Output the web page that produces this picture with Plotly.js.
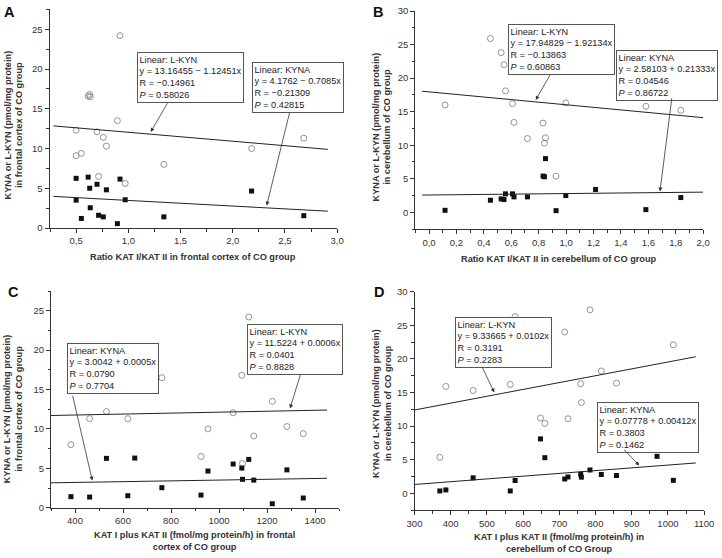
<!DOCTYPE html>
<html><head><meta charset="utf-8">
<script src="https://cdn.plot.ly/plotly-3.0.1.min.js"></script>
<style>html,body{margin:0;padding:0;background:#fff}#chart{width:722px;height:558px}</style>
</head><body><div id="chart"></div>
<script>
// ---------- Panel A: ratio KAT I/KAT II, frontal cortex ----------
const aX    = [0.50,0.50,0.55,0.615,0.63,0.635,0.70,0.715,0.76,0.79,0.895,0.92,0.97,1.34,2.18,2.68];
const aLKYN = [12.3,9.1,9.4,16.6,16.8,16.5,12.1,6.5,11.4,10.3,13.5,24.2,5.6,8.0,10.0,11.3];
const aKYNA = [6.25,3.5,1.2,6.4,5.0,2.55,5.5,1.6,1.4,4.8,0.55,6.15,3.55,1.4,4.65,1.55];
const aLineX = [0.283, 2.91];
const aFitLKYN = [13.16455, -1.12451];
const aFitKYNA = [4.1762, -0.7085];

// ---------- Panel B: ratio KAT I/KAT II, cerebellum ----------
const bX    = [0.117,0.448,0.526,0.547,0.558,0.609,0.62,0.718,0.832,0.842,0.85,0.927,0.998,1.215,1.582,1.837];
const bLKYN = [16.0,25.9,23.8,22.0,18.1,16.2,13.4,11.0,13.3,10.3,11.1,5.4,16.3,27.4,15.8,15.2];
const bKYNA = [0.3,1.8,2.0,1.9,2.75,2.75,2.3,2.3,5.4,5.3,8.0,0.25,2.5,3.4,0.4,2.2];
const bLineX = [-0.05, 2.0];
const bFitLKYN = [17.94829, -1.92134];
const bFitKYNA = [2.58103, 0.21333];

// ---------- Panel C: KAT I + KAT II, frontal cortex ----------
const cX    = [383,461,531,620,649,762,925,954,1059,1095,1098,1124,1145,1222,1283,1351];
const cLKYN = [8.0,11.3,12.2,11.3,16.4,16.5,6.5,10.0,12.05,16.8,5.6,24.2,9.1,13.5,10.3,9.4];
const cKYNA = [1.4,1.35,6.26,1.52,6.3,2.54,1.6,4.65,5.54,5.03,3.6,6.13,3.5,0.5,4.8,1.23];
const cLineX = [300, 1450];
const cFitLKYN = [11.5224, 0.0006];
const cFitKYNA = [3.0042, 0.0005];

// ---------- Panel D: KAT I + KAT II, cerebellum ----------
const dX    = [370,386.6,462,564.5,578,648,660,715,724,759,761,784.7,816,858,970,1015];
const dLKYN = [5.35,15.9,15.3,16.2,26.3,11.2,10.4,24.0,11.1,16.3,13.5,27.3,18.2,16.4,12.9,22.1];
const dKYNA = [0.35,0.5,2.3,0.35,1.9,8.1,5.3,2.13,2.43,2.85,2.4,3.47,2.8,2.65,5.5,1.93];
const dLineX = [300, 1077];
const dFitLKYN = [9.33665, 0.0102];
const dFitKYNA = [0.07778, 0.00412];

// ---------- Text ----------
const panelLetters = ['A','B','C','D'];
const xTitles = [
  'Ratio KAT I/KAT II in frontal cortex of CO group',
  'Ratio KAT I/KAT II in cerebellum of CO group',
  'KAT I plus KAT II (fmol/mg protein/h) in frontal<br>cortex of CO group',
  'KAT I plus KAT II (fmol/mg protein/h) in<br>cerebellum of CO Group'
];
const yTitles = [
  'KYNA or L-KYN (pmol/mg protein)<br>in frontal cortex of CO group',
  'KYNA or L-KYN (pmol/mg protein)<br>in cerebellum of CO group',
  'KYNA or L-KYN (pmol/mg protein)<br>in frontal cortex of CO group',
  'KYNA or L-KYN (pmol/mg protein)<br>in cerebellum of CO group'
];
const fitTexts = {
  aL: 'Linear: L-KYN<br>y = 13.16455 − 1.12451x<br>R = −0.14961<br><i>P</i> = 0.58026',
  aK: 'Linear: KYNA<br>y = 4.1762 − 0.7085x<br>R = −0.21309<br><i>P</i> = 0.42815',
  bL: 'Linear: L-KYN<br>y = 17.94829 − 1.92134x<br>R = −0.13863<br><i>P</i> = 0.60863',
  bK: 'Linear: KYNA<br>y = 2.58103 + 0.21333x<br>R = 0.04546<br><i>P</i> = 0.86722',
  cK: 'Linear: KYNA<br>y = 3.0042 + 0.0005x<br>R = 0.0790<br><i>P</i> = 0.7704',
  cL: 'Linear: L-KYN<br>y = 11.5224 + 0.0006x<br>R = 0.0401<br><i>P</i> = 0.8828',
  dL: 'Linear: L-KYN<br>y = 9.33665 + 0.0102x<br>R = 0.3191<br><i>P</i> = 0.2283',
  dK: 'Linear: KYNA<br>y = 0.07778 + 0.00412x<br>R = 0.3803<br><i>P</i> = 0.1462'
};

// ---------- Build ----------
const W = 722, H = 558;
const fx = px => px / W;
const fy = py => 1 - py / H;
const FONT = 'Arial, "Liberation Sans", sans-serif';

function fitLine(xs, fit){ return xs.map(x => fit[0] + fit[1]*x); }

const traces = [];
function addPanel(xs, lkyn, kyna, lineX, fitL, fitK, xa, ya){
  traces.push({x: xs, y: lkyn, type:'scatter', mode:'markers', xaxis:xa, yaxis:ya, cliponaxis:false,
    marker:{symbol:'circle-open', size:6, color:'#7a7a7a', line:{width:0.8, color:'#7a7a7a'}}, hoverinfo:'skip'});
  traces.push({x: xs, y: kyna, type:'scatter', mode:'markers', xaxis:xa, yaxis:ya, cliponaxis:false,
    marker:{symbol:'square', size:5, color:'#111'}, hoverinfo:'skip'});
  traces.push({x: lineX, y: fitLine(lineX, fitL), type:'scatter', mode:'lines', xaxis:xa, yaxis:ya,
    line:{color:'#222', width:1}, hoverinfo:'skip'});
  traces.push({x: lineX, y: fitLine(lineX, fitK), type:'scatter', mode:'lines', xaxis:xa, yaxis:ya,
    line:{color:'#222', width:1}, hoverinfo:'skip'});
}
addPanel(aX, aLKYN, aKYNA, aLineX, aFitLKYN, aFitKYNA, 'x', 'y');
addPanel(bX, bLKYN, bKYNA, bLineX, bFitLKYN, bFitKYNA, 'x2', 'y2');
addPanel(cX, cLKYN, cKYNA, cLineX, cFitLKYN, cFitKYNA, 'x3', 'y3');
addPanel(dX, dLKYN, dKYNA, dLineX, dFitLKYN, dFitKYNA, 'x4', 'y4');

function ax(opts){
  const minor = {dtick: opts.minor, ticklen: 2.5, ticks:'outside', tickcolor:'#333', tickwidth:1};
  delete opts.minor;
  return Object.assign({
    showgrid:false, zeroline:false, showline:true, linecolor:'#333', linewidth:1,
    ticks:'outside', ticklen:4, tickwidth:1, tickcolor:'#333',
    tickfont:{family:FONT, size:9.5, color:'#333'}, minor: minor, fixedrange:true
  }, opts);
}

const annotations = [];
// panel letters
[[9.5,11.7],[377.7,12.3],[13,292],[378.7,292.3]].forEach((p,i)=>{
  annotations.push({text:'<b>'+panelLetters[i]+'</b>', x:fx(p[0]), y:fy(p[1]), xref:'paper', yref:'paper',
    xanchor:'center', yanchor:'middle', showarrow:false, font:{family:FONT, size:14.5, color:'#111'}});
});
// x titles
[[193.4,256.7],[559.3,259],[195,541],[559.7,542.8]].forEach((p,i)=>{
  annotations.push({text:'<b>'+xTitles[i]+'</b>', x:fx(p[0]), y:fy(p[1]), xref:'paper', yref:'paper',
    xanchor:'center', yanchor:'middle', showarrow:false, align:'center',
    font:{family:FONT, size:9.2, color:'#333'}});
});
// y titles
[[13.5,125],[381.5,127],[13.3,409],[382,404]].forEach((p,i)=>{
  annotations.push({text:'<b>'+yTitles[i]+'</b>', x:fx(p[0]), y:fy(p[1]), xref:'paper', yref:'paper',
    xanchor:'center', yanchor:'middle', showarrow:false, textangle:-90, align:'center',
    font:{family:FONT, size:9.2, color:'#333'}});
});
// fit boxes (top-left corners in pixels)
const boxPos = {aL:[136.7,51.7], aK:[251.7,61.7], bL:[508,24], bK:[616,50],
                cK:[66.7,343.3], cL:[246.7,323.5], dL:[455,316.7], dK:[597,401.7]};
Object.keys(boxPos).forEach(k=>{
  const p = boxPos[k];
  annotations.push({text:fitTexts[k], x:fx(p[0]), y:fy(p[1]), xref:'paper', yref:'paper',
    xanchor:'left', yanchor:'top', showarrow:false, align:'left',
    bgcolor:'#ffffff', bordercolor:'#555', borderwidth:1, borderpad:1.5,
    font:{family:FONT, size:9.2, color:'#222'}});
});
// arrows: [tailX, tailY, headX, headY]
const arrows = [[168.3,101.7,150.7,132],[290,111,266.7,205.5],[551,73.3,535.7,100],[672,96.7,660,191.5],
                [72.3,394.3,92.3,480.5],[301,372.7,290,408.5],[481.7,366,494.3,392.5],[622.7,448.3,639.3,465.5]];
arrows.forEach(a=>{
  annotations.push({text:'', x:fx(a[2]), y:fy(a[3]), xref:'paper', yref:'paper', axref:'pixel', ayref:'pixel',
    ax:a[0]-a[2], ay:a[1]-a[3], showarrow:true, arrowhead:2, arrowsize:1, arrowwidth:0.8,
    arrowcolor:'#333', standoff:0, startstandoff:0});
});

const layout = {
  width:W, height:H, margin:{l:0,r:0,t:0,b:0}, paper_bgcolor:'#fff', plot_bgcolor:'rgba(0,0,0,0)',
  showlegend:false, separators:',.', font:{family:FONT, size:9.5, color:'#333'},
  xaxis:  ax({domain:[fx(49.5), fx(337.3)], range:[0.245, 3.001], tick0:0, dtick:0.5, tickformat:'.1f', minor:0.25, anchor:'y'}),
  yaxis:  ax({domain:[fy(228), fy(9.4)], range:[0, 27.5], tick0:0, dtick:5, minor:2.5, anchor:'x'}),
  xaxis2: ax({domain:[fx(415.3), fx(703.3)], range:[-0.1, 2.001], tick0:0, dtick:0.2, tickformat:'.1f', minor:0.1, anchor:'y2'}),
  yaxis2: ax({domain:[fy(229.1), fy(11)], range:[-2.5, 30], tick0:0, dtick:5, minor:2.5, anchor:'x2'}),
  xaxis3: ax({domain:[fx(51), fx(339)], range:[300, 1500], tick0:0, dtick:200, minor:100, anchor:'y3'}),
  yaxis3: ax({domain:[fy(507.7), fy(291)], range:[0, 27.5], tick0:0, dtick:5, minor:2.5, anchor:'x3'}),
  xaxis4: ax({domain:[fx(414.5), fx(704.3)], range:[300, 1100.5], tick0:0, dtick:100, minor:50, anchor:'y4'}),
  yaxis4: ax({domain:[fy(510.1), fy(291.7)], range:[-2.5, 30], tick0:0, dtick:5, minor:2.5, anchor:'x4'}),
  annotations: annotations
};

Plotly.newPlot('chart', traces, layout, {staticPlot:true, displayModeBar:false});
</script></body></html>
